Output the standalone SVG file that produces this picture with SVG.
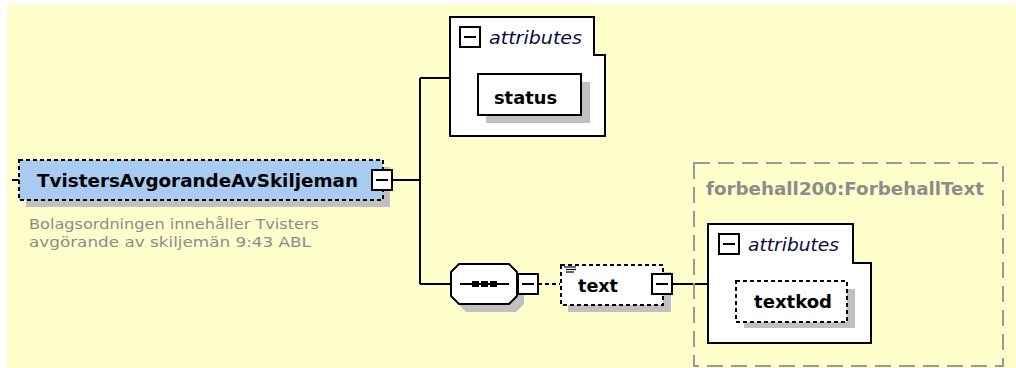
<svg xmlns="http://www.w3.org/2000/svg" width="1016" height="368" viewBox="0 0 1016 368">
<style>
.bg{fill:#FFFFCC}
.shadow{fill:#C0C0C0}
.box{fill:#FFFFFF;stroke:#000;stroke-width:2}
.dbox{fill:#FFFFFF;stroke:#000;stroke-width:2;stroke-dasharray:4 3}
.elem{fill:#A9CBF1;stroke:#000;stroke-width:2;stroke-dasharray:4 3}
.btn{fill:#FFFFFF;stroke:#000;stroke-width:2}
.minus{stroke:#000;stroke-width:2}
.conn{fill:none;stroke:#000;stroke-width:2}
.lbl{font-family:"DejaVu Sans","Liberation Sans",sans-serif;font-weight:bold;font-size:18px;fill:#000}
.attr{font-family:"DejaVu Sans","Liberation Sans",sans-serif;font-style:italic;font-size:18px;fill:#0A0A40}
.desc{font-family:"DejaVu Sans","Liberation Sans",sans-serif;font-size:14.5px;fill:#8C8C8C}
.typebox{fill:none;stroke:#999;stroke-width:2;stroke-dasharray:16 8}
.typelbl{font-family:"DejaVu Sans","Liberation Sans",sans-serif;font-weight:bold;font-size:18px;fill:#8C8C8C}
</style>
<rect class="bg" x="7" y="4" width="1009" height="364"/>

<g id="connectors">
  <path class="conn" d="M12 180 H19"/>
  <path class="conn" d="M392 180 H420 M420 78 V284 M420 78 H450 M420 284 H451"/>
  <path class="conn" d="M538 284 H560" stroke-dasharray="4 3"/>
  <path class="conn" d="M672 284 H708"/>
</g>

<g id="TvistersAvgorandeAvSkiljeman">
  <rect class="shadow" x="26" y="167" width="364" height="40"/>
  <rect class="elem" x="19" y="160" width="364" height="40"/>
  <text class="lbl" x="37" y="187" textLength="321" lengthAdjust="spacingAndGlyphs">TvistersAvgorandeAvSkiljeman</text>
  <rect class="btn" x="372" y="170" width="20" height="20"/>
  <line class="minus" x1="376" y1="180" x2="388" y2="180"/>
  <text class="desc" x="29" y="229" textLength="290" lengthAdjust="spacingAndGlyphs">Bolagsordningen innehåller Tvisters</text>
  <text class="desc" x="29" y="247" textLength="282" lengthAdjust="spacingAndGlyphs">avgörande av skiljemän 9:43 ABL</text>
</g>

<g id="attributes1">
  <polygon class="box" points="450,17 594,17 594,55 605,55 605,136 450,136"/>
  <rect class="btn" x="460" y="27" width="20" height="20"/>
  <line class="minus" x1="464" y1="37" x2="476" y2="37"/>
  <text class="attr" x="489" y="44" textLength="93" lengthAdjust="spacingAndGlyphs">attributes</text>
</g>

<g id="status">
  <rect class="shadow" x="486" y="82" width="104" height="41"/>
  <rect class="box" x="478" y="74" width="103" height="41"/>
  <text class="lbl" x="494" y="104" textLength="63" lengthAdjust="spacingAndGlyphs">status</text>
</g>

<g id="sequence">
  <polygon class="shadow" points="466,272 516,272 524,280 524,304 516,312 466,312 458,304 458,280"/>
  <polygon class="box" points="459,264 509,264 517,272 517,296 509,304 459,304 451,296 451,272"/>
  <line class="minus" x1="460" y1="284" x2="509" y2="284"/>
  <rect x="472" y="281" width="7" height="6" fill="#000"/>
  <rect x="481" y="281" width="7" height="6" fill="#000"/>
  <rect x="490" y="281" width="7" height="6" fill="#000"/>
  <rect class="btn" x="518" y="274" width="20" height="20"/>
  <line class="minus" x1="522" y1="284" x2="534" y2="284"/>
</g>

<g id="text">
  <rect class="shadow" x="568" y="272" width="103" height="40"/>
  <rect class="dbox" x="561" y="265" width="102" height="40"/>
  <line stroke="#000" stroke-width="1.2" x1="564" y1="267" x2="576" y2="267"/>
  <line stroke="#000" stroke-width="1.2" x1="566" y1="269.5" x2="576" y2="269.5"/>
  <line stroke="#000" stroke-width="1.2" x1="566" y1="272" x2="574" y2="272"/>
  <text class="lbl" x="578" y="292" textLength="40" lengthAdjust="spacingAndGlyphs">text</text>
  <rect class="btn" x="652" y="274" width="20" height="20"/>
  <line class="minus" x1="656" y1="284" x2="668" y2="284"/>
</g>

<g id="ForbehallText">
  <rect class="typebox" x="694" y="163" width="309" height="203"/>
  <text class="typelbl" x="706" y="195" textLength="278" lengthAdjust="spacingAndGlyphs">forbehall200:ForbehallText</text>
</g>

<g id="attributes2">
  <polygon class="box" points="708,224 853,224 853,263 871,263 871,343 708,343"/>
  <rect class="btn" x="719" y="234" width="20" height="20"/>
  <line class="minus" x1="723" y1="244" x2="735" y2="244"/>
  <text class="attr" x="748" y="251" textLength="91" lengthAdjust="spacingAndGlyphs">attributes</text>
</g>

<g id="textkod">
  <rect class="shadow" x="744" y="289" width="111" height="39"/>
  <rect class="dbox" x="736" y="281" width="111" height="41"/>
  <text class="lbl" x="754" y="308" textLength="78" lengthAdjust="spacingAndGlyphs">textkod</text>
</g>
</svg>
